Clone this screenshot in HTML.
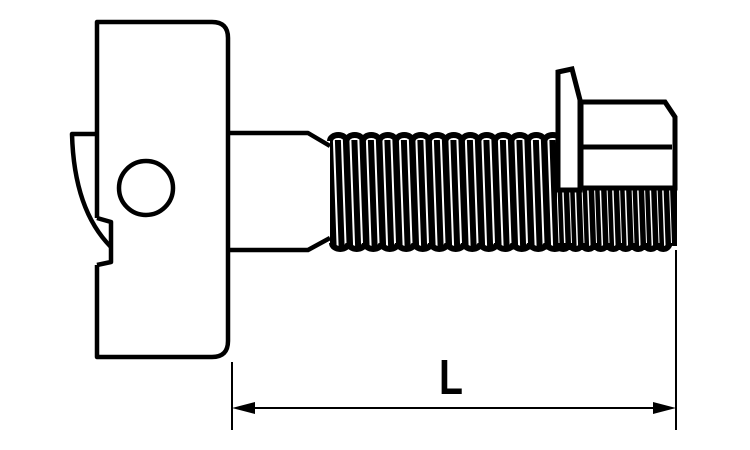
<!DOCTYPE html>
<html><head><style>html,body{margin:0;padding:0;background:#fff;width:750px;height:450px;overflow:hidden}</style></head>
<body>
<svg width="750" height="450" viewBox="0 0 750 450" xmlns="http://www.w3.org/2000/svg">
<defs>
<pattern id="thL" patternUnits="userSpaceOnUse" x="330" y="0" width="16.5" height="20" patternTransform="skewX(2)">
<rect x="0" y="0" width="6" height="20" fill="#000"/>
<rect x="8" y="0" width="6.5" height="20" fill="#000"/>
</pattern>
<pattern id="thR" patternUnits="userSpaceOnUse" x="557" y="0" width="12.5" height="20" patternTransform="skewX(2)">
<rect x="0" y="0" width="5.5" height="20" fill="#000"/>
<rect x="6.5" y="0" width="4.5" height="20" fill="#000"/>
</pattern>
</defs>
<g fill="none" stroke="#000" stroke-width="4.5" stroke-linejoin="round">
<path d="M97,218 L97,22 L212,22 Q228,22 228,38 L228,341 Q228,357 212,357 L97,357 L97,265"/>
<path d="M97,134 L72,134 Q74,210 111,247"/>
<path d="M97,218 L111,222 L111,262 L97,265"/>
<circle cx="146" cy="188" r="27"/>
<path d="M228,133 L308,133 L330,146"/>
<path d="M228,250 L308,250 L330,238"/>
</g>
<rect x="330" y="140" width="227" height="106" fill="url(#thL)"/>
<path d="M330,141 a8.25,6 0 0 1 16.5,0 a8.25,6 0 0 1 16.5,0 a8.25,6 0 0 1 16.5,0 a8.25,6 0 0 1 16.5,0 a8.25,6 0 0 1 16.5,0 a8.25,6 0 0 1 16.5,0 a8.25,6 0 0 1 16.5,0 a8.25,6 0 0 1 16.5,0 a8.25,6 0 0 1 16.5,0 a8.25,6 0 0 1 16.5,0 a8.25,6 0 0 1 16.5,0 a8.25,6 0 0 1 16.5,0 a8.25,6 0 0 1 16.5,0 a8.25,6 0 0 1 16.5,0" fill="none" stroke="#000" stroke-width="6"/>
<path d="M332,243 a8.25,6 0 0 0 16.5,0 a8.25,6 0 0 0 16.5,0 a8.25,6 0 0 0 16.5,0 a8.25,6 0 0 0 16.5,0 a8.25,6 0 0 0 16.5,0 a8.25,6 0 0 0 16.5,0 a8.25,6 0 0 0 16.5,0 a8.25,6 0 0 0 16.5,0 a8.25,6 0 0 0 16.5,0 a8.25,6 0 0 0 16.5,0 a8.25,6 0 0 0 16.5,0 a8.25,6 0 0 0 16.5,0 a8.25,6 0 0 0 16.5,0 a8.25,6 0 0 0 16.5,0" fill="none" stroke="#000" stroke-width="6"/>
<rect x="557" y="190" width="117" height="56" fill="url(#thR)"/>
<path d="M557,243 a6.25,6 0 0 0 12.5,0 a6.25,6 0 0 0 12.5,0 a6.25,6 0 0 0 12.5,0 a6.25,6 0 0 0 12.5,0 a6.25,6 0 0 0 12.5,0 a6.25,6 0 0 0 12.5,0 a6.25,6 0 0 0 12.5,0 a6.25,6 0 0 0 12.5,0 a6.25,6 0 0 0 12.5,0" fill="none" stroke="#000" stroke-width="6"/>
<line x1="675" y1="188" x2="675" y2="246" stroke="#000" stroke-width="4"/>
<g fill="#fff" stroke="#000" stroke-width="5" stroke-linejoin="miter">
<path d="M558,72 L572,69 L580,100 L580,190 L558,190 Z"/>
<path d="M581,102 L665,102 L675,117 L675,188 L581,188 Z"/>
</g>
<line x1="581" y1="147" x2="672" y2="147" stroke="#000" stroke-width="5"/>
<g stroke="#000" stroke-width="2">
<line x1="232" y1="362" x2="232" y2="430"/>
<line x1="676" y1="250" x2="676" y2="430"/>
<line x1="245" y1="408" x2="664" y2="408"/>
</g>
<path d="M232,408 L255,402 L255,414 Z" fill="#000"/>
<path d="M676,408 L653,402 L653,414 Z" fill="#000"/>
<text x="451" y="394" font-family="Liberation Sans, sans-serif" font-size="49" font-weight="bold" text-anchor="middle" fill="#000" transform="translate(451,0) scale(0.8,1) translate(-451,0)">L</text>
</svg>
</body></html>
